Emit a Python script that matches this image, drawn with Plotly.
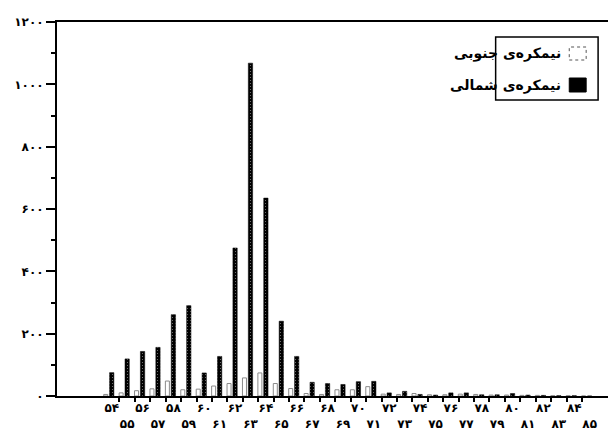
import plotly.graph_objects as go

# ---------------- data ----------------
years = [54, 55, 56, 57, 58, 59, 60, 61, 62, 63, 64, 65, 66, 67, 68, 69,
         70, 71, 72, 73, 74, 75, 76, 77, 78, 79, 80, 81, 82, 83, 84, 85]
north = [75, 119, 143, 156, 261, 290, 74, 127, 475, 1068, 635, 240, 127, 44, 40, 37,
         46, 47, 10, 15, 5, 3, 10, 10, 4, 4, 8, 3, 2, 1, 1, 0]
south = [5, 10, 17, 23, 48, 20, 22, 32, 40, 58, 74, 40, 24, 8, 5, 20,
         20, 30, 6, 5, 8, 4, 4, 6, 5, 3, 3, 2, 2, 1, 1, 0]
x_labels = ["۵۴", "<br>۵۵", "۵۶", "<br>۵۷", "۵۸", "<br>۵۹", "۶۰", "<br>۶۱",
            "۶۲", "<br>۶۳", "۶۴", "<br>۶۵", "۶۶", "<br>۶۷", "۶۸", "<br>۶۹",
            "۷۰", "<br>۷۱", "۷۲", "<br>۷۳", "۷۴", "<br>۷۵", "۷۶", "<br>۷۷",
            "۷۸", "<br>۷۹", "۸۰", "<br>۸۱", "۸۲", "<br>۸۳", "۸۴", "<br>۸۵"]
y_ticks = [0, 200, 400, 600, 800, 1000, 1200]
y_labels = ["۰", "۲۰۰", "۴۰۰", "۶۰۰", "۸۰۰", "۱۰۰۰", "۱۲۰۰"]
name_south = "نیمکره‌ی جنوبی"
name_north = "نیمکره‌ی شمالی"

FONT = "DejaVu Sans"

fig = go.Figure()
fig.add_bar(x=years, y=south, width=0.26, offset=-0.52, name=name_south,
            marker=dict(color="white", line=dict(color="#8a8a8a", width=1)))
fig.add_bar(x=years, y=north, width=0.28, offset=-0.14, name=name_north,
            marker=dict(color="black", line=dict(color="black", width=0.5),
                        pattern=dict(shape=".", fgcolor="white", bgcolor="black",
                                     size=3, solidity=0.12)))
# invisible trace to carry the boundary tick marks axis
boundaries = [y + 0.5 for y in years[:-1]]
fig.add_scatter(x=[boundaries[0]], y=[0], xaxis="x2", mode="markers",
                marker=dict(opacity=0), hoverinfo="skip", showlegend=False)

xr = [50.45, 86.71]
fig.update_layout(
    width=616, height=439,
    margin=dict(l=48, r=6, t=14, b=51),
    paper_bgcolor="white", plot_bgcolor="white",
    barmode="overlay", showlegend=False,
    font=dict(family=FONT, color="black"),
    xaxis=dict(range=xr, tickmode="array", tickvals=years, ticktext=x_labels,
               tickangle=0, ticks="", ticklabelstandoff=0,
               showline=True, linecolor="black", linewidth=2, mirror=True,
               showgrid=False, zeroline=False,
               tickfont=dict(family=FONT, size=12, weight="bold", color="black")),
    xaxis2=dict(range=xr, overlaying="x", anchor="y", side="bottom",
                tickmode="array", tickvals=boundaries, ticks="outside",
                ticklen=5, tickwidth=1.5, tickcolor="black",
                showticklabels=False, showline=False, showgrid=False, zeroline=False),
    yaxis=dict(range=[0, 1200], tickmode="array", tickvals=y_ticks, ticktext=y_labels,
               ticks="outside", ticklen=9, tickwidth=1.5, tickcolor="black",
               showline=True, linecolor="black", linewidth=2, mirror=True,
               showgrid=False, zeroline=False,
               minor=dict(tickmode="array", tickvals=[100, 300, 500, 700, 900, 1100],
                          ticks="outside", ticklen=4, tickcolor="black"),
               tickfont=dict(family=FONT, size=12, weight="bold", color="black")),
)

# custom RTL legend (symbols to the right of the text)
def px_x(p):
    return (p - 48) / 562.0

def px_y(p):
    return (388 - p) / 374.0

fig.add_shape(type="rect", xref="paper", yref="paper",
              x0=px_x(489), x1=px_x(592), y0=px_y(92), y1=px_y(29),
              line=dict(color="black", width=1.5), fillcolor="white", layer="above")
fig.add_shape(type="rect", xref="paper", yref="paper",
              x0=px_x(563), x1=px_x(580), y0=px_y(52), y1=px_y(39),
              line=dict(color="#555", width=1, dash="dot"), fillcolor="white", layer="above")
fig.add_shape(type="rect", xref="paper", yref="paper",
              x0=px_x(563), x1=px_x(580), y0=px_y(84), y1=px_y(70),
              line=dict(color="black", width=1), fillcolor="black", layer="above")
fig.add_annotation(xref="paper", yref="paper", x=px_x(557), y=px_y(45),
                   text="<b>" + name_south + "</b>", showarrow=False,
                   xanchor="right", yanchor="middle",
                   font=dict(family=FONT, size=14, color="black"))
fig.add_annotation(xref="paper", yref="paper", x=px_x(557), y=px_y(77),
                   text="<b>" + name_north + "</b>", showarrow=False,
                   xanchor="right", yanchor="middle",
                   font=dict(family=FONT, size=14, color="black"))

fig.write_html("out.html")
